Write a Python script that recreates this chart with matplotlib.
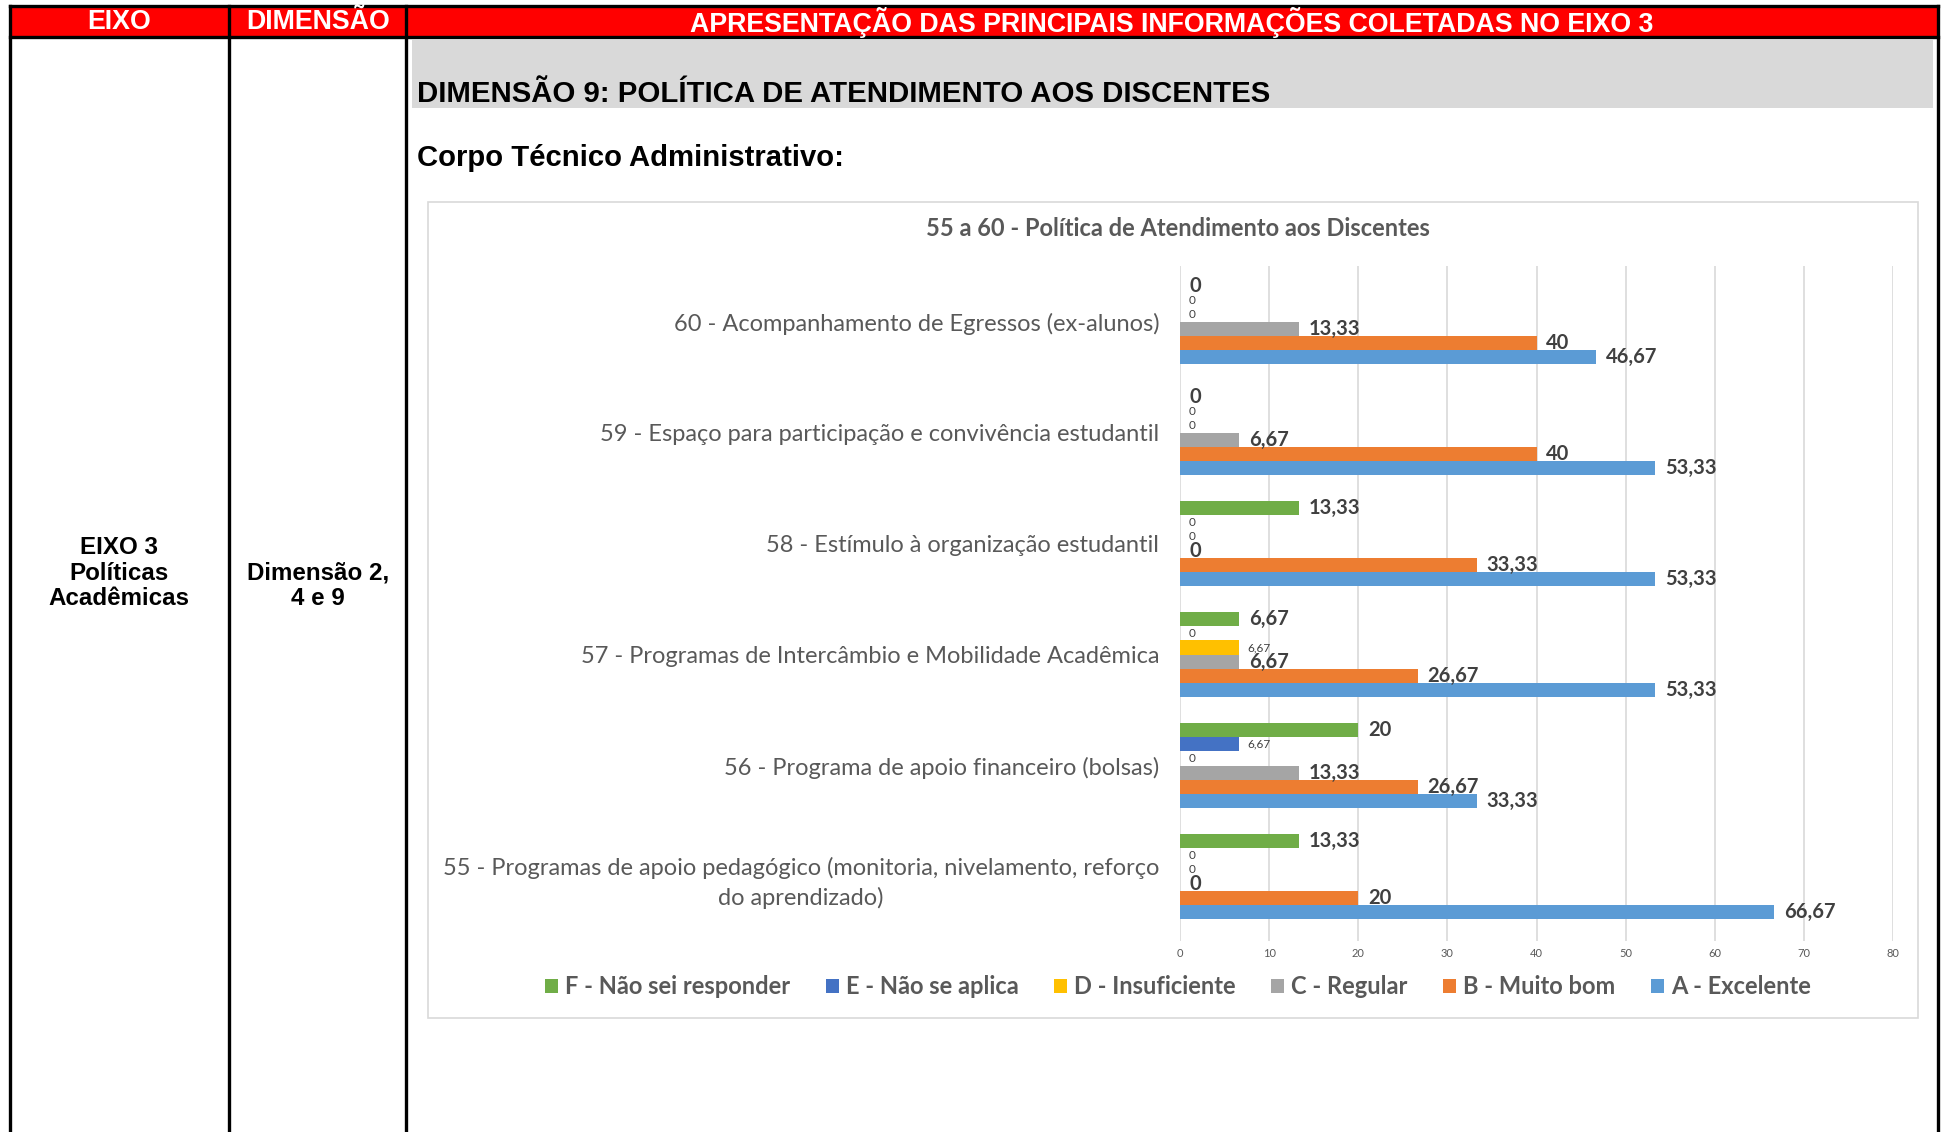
import numpy as np
import matplotlib
matplotlib.use("Agg")
import matplotlib.pyplot as plt
from matplotlib.patches import Rectangle

# data
categories = [
    "55 - Programas de apoio pedagógico (monitoria, nivelamento, reforço\ndo aprendizado)",
    "56 - Programa de apoio financeiro (bolsas)",
    "57 - Programas de Intercâmbio e Mobilidade Acadêmica",
    "58 - Estímulo à organização estudantil",
    "59 - Espaço para participação e convivência estudantil",
    "60 - Acompanhamento de Egressos (ex-alunos)",
]
series_names = ["A - Excelente", "B - Muito bom", "C - Regular",
                "D - Insuficiente", "E - Não se aplica", "F - Não sei responder"]
a_excelente = [66.67, 33.33, 53.33, 53.33, 53.33, 46.67]
b_muito_bom = [20, 26.67, 26.67, 33.33, 40, 40]
c_regular = [0, 13.33, 6.67, 0, 6.67, 13.33]
d_insuficiente = [0, 0, 6.67, 0, 0, 0]
e_nao_aplica = [0, 6.67, 0, 0, 0, 0]
f_nao_sei = [13.33, 20, 6.67, 13.33, 0, 0]
series_values = [a_excelente, b_muito_bom, c_regular, d_insuficiente, e_nao_aplica, f_nao_sei]
colors = ["#5B9BD5", "#ED7D31", "#A5A5A5", "#FFC000", "#4472C4", "#70AD47"]
small_label = [False, False, False, True, True, False]
xticks = [0, 10, 20, 30, 40, 50, 60, 70, 80]

W, H = 1944, 1132
fig = plt.figure(figsize=(W / 100, H / 100), dpi=100)

# page / table layer in pixel coords
bg = fig.add_axes([0, 0, 1, 1])
bg.set_xlim(0, W)
bg.set_ylim(H, 0)
bg.axis("off")

arial = "Liberation Sans"
calib = "Lato"
grey_txt = "#595959"

bg.add_patch(Rectangle((10, 6), 1928, 31, facecolor="#FF0000", edgecolor="none"))
bg.add_patch(Rectangle((412, 40), 1521, 68, facecolor="#D9D9D9", edgecolor="none"))
lw = 2.4
for x in [10, 229, 406, 1938]:
    bg.plot([x, x], [6, H + 5], color="black", lw=lw, solid_capstyle="projecting")
for y in [6, 37]:
    bg.plot([10, 1938], [y, y], color="black", lw=lw, solid_capstyle="projecting")

hdr = dict(color="white", fontweight="bold", family=arial, fontsize=19.3, va="center", ha="center")
bg.text(119, 22, "EIXO", **hdr)
bg.text(318, 22, "DIMENSÃO", **hdr)
bg.text(1172, 22, "APRESENTAÇÃO DAS PRINCIPAIS INFORMAÇÕES COLETADAS NO EIXO 3", **hdr)

bg.text(417, 94, "DIMENSÃO 9: POLÍTICA DE ATENDIMENTO AOS DISCENTES", family=arial,
        fontweight="bold", fontsize=21.2, va="center", ha="left")
bg.text(417, 158, "Corpo Técnico Administrativo:", family=arial,
        fontweight="bold", fontsize=21.1, va="center", ha="left")
bg.text(119, 573, "EIXO 3\nPolíticas\nAcadêmicas", family=arial, fontweight="bold",
        fontsize=17.4, va="center", ha="center", linespacing=1.15)
bg.text(318, 586, "Dimensão 2,\n4 e 9", family=arial, fontweight="bold",
        fontsize=17.4, va="center", ha="center", linespacing=1.15)

# chart frame
bg.add_patch(Rectangle((428, 202), 1490, 816, facecolor="white", edgecolor="#D9D9D9", lw=1.2))
bg.text(1178, 229, "55 a 60 - Política de Atendimento aos Discentes", family=calib,
        fontweight="bold", fontsize=17, color=grey_txt, va="center", ha="center")

# chart axes
x0, x1, y0, y1 = 1180, 1893, 266, 941
ax = fig.add_axes([x0 / W, 1 - y1 / H, (x1 - x0) / W, (y1 - y0) / H])
ax.set_facecolor("none")

idx = np.arange(len(categories))
h = 0.128
for k, (vals, col) in enumerate(zip(series_values, colors)):
    pos = idx + (k - 2.5) * h
    bars = ax.barh(pos, vals, height=h, color=col, linewidth=0, label=series_names[k], zorder=3)
    labels = [("%g" % v) if float(v).is_integer() else ("%.2f" % v).replace(".", ",") for v in vals]
    if small_label[k]:
        ax.bar_label(bars, labels=labels, padding=6, fontsize=8.5, color="#404040", family=calib)
    else:
        ax.bar_label(bars, labels=labels, padding=7, fontsize=14.5, fontweight="bold",
                     color="#404040", family=calib)

ax.set_xlim(0, 80)
ax.set_ylim(-0.58, len(categories) - 0.5)
ax.set_xticks(xticks)
ax.set_xticklabels([str(t) for t in xticks], fontsize=8, color=grey_txt, family=calib)
ax.set_yticks(idx)
ax.set_yticklabels(categories, fontsize=17, color=grey_txt, family=calib, linespacing=1.45)
for lbl in ax.get_yticklabels():
    lbl.set_multialignment("center")
ax.tick_params(axis="both", length=0)
ax.tick_params(axis="y", pad=15)
ax.tick_params(axis="x", pad=5)
ax.grid(axis="x", color="#D9D9D9", lw=1.2, zorder=0)
for s in ax.spines.values():
    s.set_visible(False)

handles, names = ax.get_legend_handles_labels()
leg = fig.legend(handles[::-1], names[::-1], loc="center", bbox_to_anchor=(1178 / W, 1 - 987 / H),
                 ncol=6, frameon=False, handlelength=0.55, handleheight=0.55, handletextpad=0.3,
                 columnspacing=1.5, prop={"family": calib, "weight": "bold", "size": 17})
for t in leg.get_texts():
    t.set_color(grey_txt)

fig.savefig("out.png", dpi=100)
